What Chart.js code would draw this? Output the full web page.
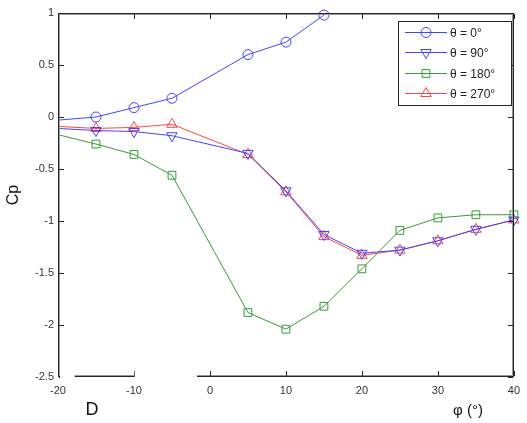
<!DOCTYPE html>
<html>
<head>
<meta charset="utf-8">
<script src="https://cdn.jsdelivr.net/npm/chart.js@4/dist/chart.umd.min.js"></script>
<style>
  html, body { margin: 0; padding: 0; background: #fff; }
  #wrap { width: 527px; height: 423px; position: relative; }
</style>
</head>
<body>
<div id="wrap"><canvas id="cp"></canvas></div>
<script>
// wind angle phi (deg) and pressure coefficient per theta
const phi = [-20, -15, -10, -5, 5, 10, 15, 20, 25, 30, 35, 40];
const phi0 = [-20, -15, -10, -5, 5, 10, 15];
const cp0 = [-0.03, 0.00, 0.09, 0.18, 0.60, 0.72, 0.98];
const cp90 = [-0.11, -0.13, -0.14, -0.18, -0.35, -0.71, -1.13, -1.31, -1.28, -1.19, -1.08, -0.99];
const cp180 = [-0.17, -0.26, -0.36, -0.56, -1.88, -2.04, -1.82, -1.46, -1.09, -0.97, -0.94, -0.94];
const cp270 = [-0.09, -0.11, -0.10, -0.07, -0.36, -0.72, -1.15, -1.33, -1.28, -1.19, -1.08, -0.99];
const xTicks = [-20, -10, 0, 10, 20, 30, 40];
const yTicks = [1, 0.5, 0, -0.5, -1, -1.5, -2, -2.5];
const names = ['θ = 0°', 'θ = 90°', 'θ = 180°', 'θ = 270°'];

function pts(xs, ys) {
  return ys.map(function (v, i) { return { x: xs[i], y: v }; });
}

// no marker on the edge point
function rad(r) {
  return function (c) { return c.raw && c.raw.x <= -20 ? 0 : r; };
}

function series(label, data, color, style, r, rot) {
  return {
    label: label,
    data: data,
    borderColor: color,
    backgroundColor: 'rgba(0,0,0,0)',
    borderWidth: 1,
    pointStyle: style,
    pointRadius: rad(r),
    pointRotation: rot || 0,
    pointBorderWidth: 1,
    pointBackgroundColor: 'rgba(0,0,0,0)',
    tension: 0,
    clip: false
  };
}

const frame = {
  id: 'frame',
  afterDraw: function (chart) {
    var ctx = chart.ctx;
    var xs = chart.scales.x, ys = chart.scales.y;
    var L = Math.round(xs.getPixelForValue(-20)), R = Math.round(xs.getPixelForValue(40)) - 1;
    var T = Math.round(ys.getPixelForValue(1)), B = Math.round(ys.getPixelForValue(-2.5)) - 1;
    ctx.save();
    // soft second pixel, like the blurry scan
    ctx.fillStyle = '#9a9a9a';
    ctx.fillRect(L, T + 1, R - L + 1, 1);
    ctx.fillRect(L, B - 1, R - L + 1, 1);
    ctx.fillRect(L + 1, T, 1, B - T + 1);
    ctx.fillRect(R - 1, T, 1, B - T + 1);
    ctx.fillStyle = '#262626';
    ctx.fillRect(L, T, R - L + 1, 1);
    ctx.fillRect(L, B, R - L + 1, 1);
    ctx.fillRect(L, T, 1, B - T + 1);
    ctx.fillRect(R, T, 1, B - T + 1);
    // inward ticks on all four sides
    xTicks.forEach(function (v) {
      var p = Math.round(xs.getPixelForValue(v));
      ctx.fillRect(p, B - 5, 1, 5);
      ctx.fillRect(p, T + 1, 1, 5);
    });
    yTicks.forEach(function (v) {
      var p = Math.round(ys.getPixelForValue(v));
      ctx.fillRect(L + 1, p, 5, 1);
      ctx.fillRect(R - 5, p, 5, 1);
    });

    // broken bottom axis as in the scanned figure
    ctx.fillStyle = '#fff';
    var g1 = xs.getPixelForValue(-20) + 2, g2 = xs.getPixelForValue(-17.8);
    var g3 = xs.getPixelForValue(-9.9), g4 = xs.getPixelForValue(-1.7);
    ctx.fillRect(g1, B - 1, g2 - g1, 4);
    ctx.fillRect(g3, B - 6, g4 - g3, 9);

    ctx.fillStyle = '#111';
    ctx.textBaseline = 'middle';
    ctx.textAlign = 'center';
    ctx.font = '18px "Liberation Sans", Arial, sans-serif';
    ctx.fillText('D', 92, 410);
    ctx.font = '15px "Liberation Sans", Arial, sans-serif';
    ctx.fillText('φ (°)', 468, 411);

    // legend box
    var lx = 398, ly = 21, lw = 113, lh = 84;
    ctx.fillStyle = '#fff';
    ctx.fillRect(lx, ly, lw, lh);
    ctx.fillStyle = '#262626';
    ctx.fillRect(lx, ly, lw, 1);
    ctx.fillRect(lx, ly + lh, lw, 1);
    ctx.fillRect(lx, ly, 1, lh);
    ctx.fillRect(lx + lw, ly, 1, lh + 1);
    ctx.font = '12px "Liberation Sans", Arial, sans-serif';
    ctx.textAlign = 'left';
    ctx.lineWidth = 1;
    chart.data.datasets.forEach(function (ds, i) {
      var y = Math.round(ly + 11 + i * 20.3) + 0.5;
      ctx.strokeStyle = ds.borderColor;
      ctx.beginPath();
      ctx.moveTo(lx + 7, y); ctx.lineTo(lx + 49, y);
      ctx.stroke();
      ctx.fillStyle = 'rgba(0,0,0,0)';
      Chart.helpers.drawPoint(ctx, {
        pointStyle: ds.pointStyle,
        radius: ds.label === names[0] ? 5 : (ds.pointStyle === 'rect' ? 5.5 : 6),
        rotation: ds.pointRotation,
        borderWidth: 1
      }, lx + 28, y);
      ctx.fillStyle = '#222';
      ctx.fillText(ds.label, lx + 52, y + 1);
    });
    ctx.restore();
  }
};

new Chart(document.getElementById('cp'), {
  type: 'line',
  data: {
    datasets: [
      series(names[0], pts(phi0, cp0), '#4444ff', 'circle', 5),
      series(names[1], pts(phi, cp90), '#4444ff', 'triangle', 6, 180),
      series(names[2], pts(phi, cp180), '#3a9a3a', 'rect', 5.5),
      series(names[3], pts(phi, cp270), '#ff4444', 'triangle', 6)
    ]
  },
  options: {
    responsive: true,
    maintainAspectRatio: false,
    devicePixelRatio: 1,
    animation: false,
    layout: { padding: { top: 13, right: 10, left: 0, bottom: 0 } },
    plugins: { legend: { display: false }, tooltip: { enabled: false } },
    scales: {
      x: {
        type: 'linear',
        min: -20, max: 40,
        afterFit: function (s) { s.height = 46; },
        afterBuildTicks: function (s) { s.ticks = xTicks.map(function (v) { return { value: v }; }); },
        grid: { display: false, drawTicks: false },
        border: { display: false },
        ticks: { color: '#333', padding: 7, maxRotation: 0, callback: function (v) { return String(v); },
          font: { size: 11, family: '"Liberation Sans", Arial, sans-serif' } }
      },
      y: {
        min: -2.5, max: 1,
        afterFit: function (s) { s.width = 58; },
        afterBuildTicks: function (s) { s.ticks = yTicks.map(function (v) { return { value: v }; }); },
        grid: { display: false, drawTicks: false },
        border: { display: false },
        ticks: { color: '#333', padding: 4, callback: function (v) { return String(v); },
          font: { size: 11, family: '"Liberation Sans", Arial, sans-serif' } },
        title: { display: true, text: 'Cp', color: '#111', padding: { top: 4, bottom: 0 }, font: { size: 16, family: '"Liberation Sans", Arial, sans-serif' } }
      }
    }
  },
  plugins: [frame]
});
</script>
</body>
</html>
